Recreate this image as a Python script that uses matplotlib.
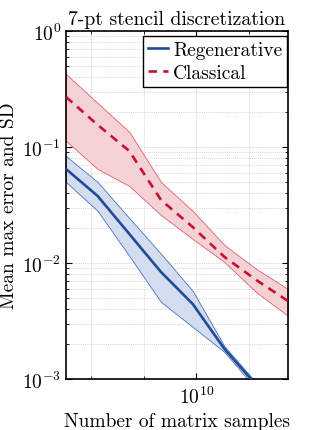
import matplotlib

matplotlib.use("Agg")
import matplotlib.pyplot as plt
import numpy as np
from matplotlib.ticker import FixedLocator, NullFormatter, LogLocator

plt.rcParams["font.family"] = "serif"
plt.rcParams["font.serif"] = ["cmr10"]
plt.rcParams["mathtext.fontset"] = "cm"
plt.rcParams["axes.formatter.use_mathtext"] = True

# matrix samples
samples = np.array([1.79e9, 2.72e9, 4.13e9, 6.28e9, 9.55e9, 1.45e10, 2.21e10, 3.36e10])

regen_mean = np.array([0.0646, 0.0378, 0.0178, 0.00836, 0.00443, 0.00182, 0.000888, 0.000452])
regen_hi = np.array([0.0836, 0.0499, 0.0244, 0.0120, 0.00574, 0.00192, 0.00093, 0.00047])
regen_lo = np.array([0.0499, 0.0281, 0.0115, 0.00461, 0.00281, 0.00171, 0.00082, 0.00042])

class_mean = np.array([0.27, 0.155, 0.0924, 0.0349, 0.0204, 0.0113, 0.00713, 0.0047])
class_hi = np.array([0.426, 0.239, 0.135, 0.0499, 0.0281, 0.0143, 0.0089, 0.00597])
class_lo = np.array([0.113, 0.0646, 0.0461, 0.0259, 0.0161, 0.0102, 0.0056, 0.0035])

x_minor = [2.5e9, 5e9, 2e10]
x_major = [1e10]

blue = "#1f4b99"
red = "#c8102e"

fig = plt.figure(figsize=(3.19, 4.31), dpi=100)
ax = fig.add_axes([66 / 319, 51 / 431, 222 / 319, 348 / 431])

ax.fill_between(samples, regen_lo, regen_hi, color="#d3ddef", edgecolor="#4a72c0",
                linewidth=0.6, zorder=2)
ax.fill_between(samples, class_lo, class_hi, color="#f3d1d5", edgecolor="#e0606e",
                linewidth=0.6, zorder=2)
ax.plot(samples, regen_mean, color=blue, lw=1.9, label="Regenerative", zorder=3)
ax.plot(samples, class_mean, color=red, lw=1.9, ls=(0, (3.2, 2.4)), label="Classical", zorder=3)

ax.set_xscale("log")
ax.set_yscale("log")
ax.set_xlim(samples[0], samples[-1])
ax.set_ylim(1e-3, 1e0)

ax.xaxis.set_major_locator(FixedLocator(x_major))
ax.xaxis.set_minor_locator(FixedLocator(x_minor))
ax.xaxis.set_minor_formatter(NullFormatter())
ax.yaxis.set_major_locator(LogLocator(base=10, numticks=10))
ax.yaxis.set_minor_locator(LogLocator(base=10, subs=np.arange(2, 10), numticks=10))
ax.yaxis.set_minor_formatter(NullFormatter())

ax.grid(True, which="both", color="#c4c4c4", ls=(0, (1, 1.5)), lw=0.6, zorder=0)
ax.tick_params(which="both", direction="in", top=True, right=True, labelsize=14)
ax.tick_params(which="major", length=4, width=0.8)
ax.tick_params(which="minor", length=2, width=0.6)
ax.tick_params(axis="x", which="major", pad=5)
for s in ax.spines.values():
    s.set_linewidth(1.2)

ax.set_title("7-pt stencil discretization", fontsize=14.2, pad=5)
ax.set_xlabel("Number of matrix samples", fontsize=14, labelpad=3)
ax.set_ylabel("Mean max error and SD", fontsize=14, labelpad=3)

leg = ax.legend(loc="upper right", bbox_to_anchor=(0.997, 0.985), fontsize=14,
                frameon=True, fancybox=False, edgecolor="black", framealpha=1,
                handlelength=1.0, handletextpad=0.3, borderpad=0.25,
                labelspacing=0.25, borderaxespad=0.0)
leg.get_frame().set_linewidth(1.0)

fig.savefig("out.png", dpi=100)
